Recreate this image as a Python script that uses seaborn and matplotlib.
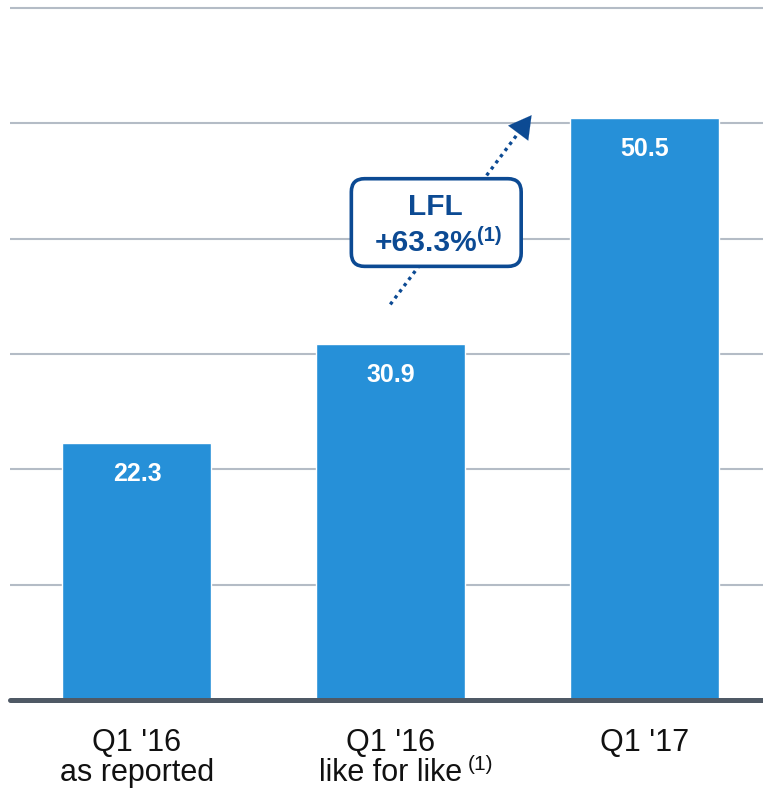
import matplotlib
matplotlib.use("Agg")
import matplotlib.pyplot as plt
import seaborn as sns
import pandas as pd
from matplotlib.patches import FancyBboxPatch

# ---- data ----
categories = ["Q1 '16\nas reported", "Q1 '16\nlike for like", "Q1 '17"]
values = [22.3, 30.9, 50.5]
value_labels = ["22.3", "30.9", "50.5"]
lfl_title = "LFL"
lfl_value = "+63.3%"
footnote_mark = "(1)"
yticks = [10, 20, 30, 40, 50, 60]

sns.set_theme(style="white")
plt.rcParams['font.family'] = ['Liberation Sans', 'DejaVu Sans']

BAR = "#2690d8"
DARK = "#0c4a93"
GRID = "#b4bcc6"
BASE = "#4f5965"

fig = plt.figure(figsize=(7.63, 7.92), dpi=100)
ax = fig.add_axes([10/763, 92/792, 753/763, 700/792])

df = pd.DataFrame({"cat": categories, "val": values})
sns.barplot(data=df, x="cat", y="val", color=BAR, width=0.587, saturation=1,
            ax=ax, zorder=2)

ax.set_xlim(-0.5, 2.466)
ax.set_ylim(0, 700/11.533)
ax.set_yticks(yticks)
for y in yticks:
    ax.axhline(y, color=GRID, lw=1.5, zorder=1)
ax.axhline(0, color=BASE, lw=3.6, zorder=3, clip_on=False)

for s in ax.spines.values():
    s.set_visible(False)
ax.set_ylabel("")
ax.set_xlabel("")
ax.tick_params(axis='y', left=False, labelleft=False)
ax.tick_params(axis='x', length=0, pad=20.5)
ax.set_xticks(range(3))
ax.set_xticklabels(categories, fontsize=22, color="#111111", linespacing=1.0)

for i, (v, lab) in enumerate(zip(values, value_labels)):
    ax.text(i, v - 2.7, lab, ha='center', va='center', color='white',
            fontsize=18, fontweight='bold', zorder=4)

# footnote mark on the second tick label
ax.text(1.352, -0.092, footnote_mark, transform=ax.get_xaxis_transform(),
        ha='center', va='center', fontsize=15, color="#111111")

# dotted growth arrow
x0, y0, x1, y1 = 0.998, 34.3, 1.561, 50.9
ax.plot([x0, x0 + (x1 - x0) * 0.93], [y0, y0 + (y1 - y0) * 0.93], color=DARK,
        lw=2.4, linestyle=(0, (1, 1.3)), zorder=5)
ax.annotate('', xy=(x1, y1), xytext=(x0 + (x1 - x0) * 0.9, y0 + (y1 - y0) * 0.9),
            arrowprops=dict(arrowstyle='-|>,head_length=0.8,head_width=0.45',
                            color=DARK, lw=0.1, mutation_scale=20), zorder=5)

# LFL box
px_x, px_y = 254.0, 11.533
box = FancyBboxPatch((0.8445, 37.6), 0.669, 7.6,
                     boxstyle='round,pad=0,rounding_size=0.052',
                     mutation_aspect=px_x / px_y, fc='white', ec=DARK, lw=2.6,
                     zorder=6)
ax.add_patch(box)
ax.text(1.1752, 42.75, lfl_title, ha='center', va='center', fontsize=21.5,
        fontweight='bold', color=DARK, zorder=7)
ax.text(1.3406, 39.6, lfl_value, ha='right', va='center', fontsize=21.5,
        fontweight='bold', color=DARK, zorder=7)
ax.text(1.3406, 40.3, footnote_mark, ha='left', va='center', fontsize=14.5,
        fontweight='bold', color=DARK, zorder=7)

fig.savefig("out.png", dpi=100)
